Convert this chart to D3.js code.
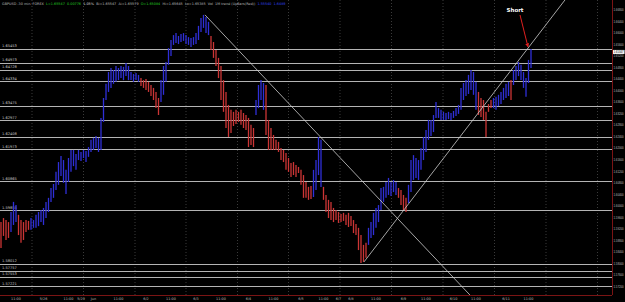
<!DOCTYPE html>
<meta charset="utf-8">
<style>
body { margin: 0; background: #000; }
svg { display: block; font-family: "DejaVu Sans", sans-serif; }
</style>
<body>
<script src="https://d3js.org/d3.v7.min.js"></script>
<script>

// bar highs / lows (GBPUSD 30 min)
var highs = [1.5945,1.5959,1.5952,1.5945,1.5980,1.6015,1.6004,1.5970,1.5952,1.5945,
  1.5952,1.5949,1.5959,1.5952,1.5970,1.5980,1.5987,1.5994,1.6015,1.6029,
  1.6063,1.6077,1.6119,1.6153,1.6174,1.6160,1.6126,1.6167,1.6195,1.6195,
  1.6181,1.6195,1.6188,1.6195,1.6191,1.6205,1.6230,1.6237,1.6243,1.6237,
  1.6306,1.6375,1.6424,1.6465,1.6479,1.6472,1.6486,1.6479,1.6486,1.6483,
  1.6496,1.6486,1.6465,1.6458,1.6462,1.6455,1.6444,1.6437,1.6441,1.6431,
  1.6420,1.6410,1.6396,1.6375,1.6437,1.6486,1.6500,1.6548,1.6576,1.6593,
  1.6600,1.6590,1.6597,1.6600,1.6593,1.6586,1.6583,1.6586,1.6600,1.6625,
  1.6652,1.6663,1.6656,1.6639,1.6590,1.6569,1.6541,1.6514,1.6486,1.6437,
  1.6396,1.6351,1.6334,1.6327,1.6334,1.6327,1.6334,1.6323,1.6316,1.6306,
  1.6282,1.6271,1.6368,1.6420,1.6437,1.6427,1.6420,1.6299,1.6271,1.6247,
  1.6230,1.6223,1.6202,1.6195,1.6184,1.6167,1.6150,1.6153,1.6143,1.6136,
  1.6126,1.6108,1.6084,1.6067,1.6070,1.6126,1.6160,1.6240,1.6230,1.6067,
  1.6039,1.6022,1.6015,1.5994,1.5987,1.5980,1.5973,1.5977,1.5970,1.5977,
  1.5966,1.5952,1.5938,1.5925,1.5900,1.5866,1.5873,1.5925,1.5945,1.5977,
  1.5994,1.6004,1.6063,1.6067,1.6084,1.6098,1.6084,1.6091,1.6084,1.6063,
  1.6056,1.6039,1.6029,1.6074,1.6160,1.6177,1.6167,1.6160,1.6202,1.6240,
  1.6264,1.6299,1.6299,1.6316,1.6361,1.6340,1.6334,1.6327,1.6323,1.6327,
  1.6323,1.6330,1.6340,1.6351,1.6410,1.6427,1.6437,1.6455,1.6472,1.6465,
  1.6431,1.6396,1.6375,1.6368,1.6327,1.6354,1.6368,1.6375,1.6379,1.6386,
  1.6396,1.6410,1.6424,1.6431,1.6437,1.6472,1.6486,1.6500,1.6490,1.6465,
  1.6444,1.6507,1.6545];

var lows = [1.5855,1.5897,1.5883,1.5890,1.5911,1.5935,1.5945,1.5900,1.5873,1.5883,
  1.5911,1.5918,1.5918,1.5925,1.5925,1.5931,1.5945,1.5935,1.5959,1.5980,
  1.6015,1.6029,1.6056,1.6074,1.6105,1.6081,1.6042,1.6084,1.6119,1.6139,
  1.6126,1.6160,1.6157,1.6167,1.6153,1.6171,1.6188,1.6195,1.6202,1.6188,
  1.6195,1.6292,1.6368,1.6396,1.6410,1.6424,1.6431,1.6437,1.6444,1.6437,
  1.6451,1.6437,1.6437,1.6431,1.6437,1.6431,1.6417,1.6410,1.6403,1.6396,
  1.6382,1.6368,1.6340,1.6316,1.6361,1.6386,1.6431,1.6490,1.6521,1.6559,
  1.6566,1.6562,1.6569,1.6573,1.6562,1.6559,1.6552,1.6559,1.6562,1.6576,
  1.6604,1.6618,1.6600,1.6593,1.6541,1.6514,1.6486,1.6444,1.6368,1.6327,
  1.6271,1.6240,1.6254,1.6278,1.6285,1.6292,1.6282,1.6271,1.6264,1.6205,
  1.6212,1.6205,1.6316,1.6340,1.6368,1.6334,1.6247,1.6195,1.6195,1.6195,
  1.6195,1.6188,1.6160,1.6153,1.6126,1.6119,1.6101,1.6108,1.6101,1.6115,
  1.6074,1.6029,1.6029,1.6022,1.6025,1.6032,1.6056,1.6108,1.6067,1.6022,
  1.5980,1.5959,1.5952,1.5945,1.5952,1.5942,1.5945,1.5949,1.5935,1.5928,
  1.5931,1.5907,1.5900,1.5848,1.5803,1.5807,1.5821,1.5866,1.5890,1.5900,
  1.5925,1.5945,1.5987,1.6015,1.6029,1.6039,1.6035,1.6049,1.6039,1.6029,
  1.6004,1.5987,1.5980,1.6011,1.6049,1.6091,1.6098,1.6091,1.6126,1.6160,
  1.6188,1.6230,1.6243,1.6257,1.6306,1.6306,1.6299,1.6299,1.6299,1.6302,
  1.6299,1.6306,1.6313,1.6320,1.6334,1.6368,1.6382,1.6389,1.6403,1.6386,
  1.6334,1.6316,1.6309,1.6299,1.6240,1.6327,1.6340,1.6340,1.6334,1.6347,
  1.6354,1.6368,1.6375,1.6382,1.6368,1.6420,1.6437,1.6451,1.6437,1.6410,
  1.6379,1.6427,1.6479];

// trend colouring of the bars: runs of up (blue) / down (red)
var trendRuns = [["d",4],["u",3],["d",5],["u",44],["d",8],["u",20],["d",18],["u",4],
  ["d",19],["u",4],["d",18],["u",12],["d",4],["u",28],["d",6],["u",7],["d",1],["u",8]];

// horizontal levels drawn on the chart
var levels = [1.65453,1.64973,1.64728,1.64334,1.63475,1.62977,1.62408,1.61973,
  1.60865,1.59855,1.58012,1.57757,1.57553,1.57221];

// right price axis
var priceTicks = [1.572,1.576,1.580,1.584,1.588,1.592,1.596,1.600,1.604,1.608,1.612,1.616,
  1.620,1.624,1.628,1.632,1.636,1.640,1.644,1.648,1.652,1.656,1.660,1.664,1.668];
var lastPrice = 1.65347;

// bottom time axis (bar index -> label)
var timeTickBars = [6,17,27,32,37,47,58,68,78,88,99,109,120,129,135,140,150,161,170,181,190,202,211];
var timeTickLabels = ["11:00","5/26","11:00","5/29","Jun","11:00","6/2","11:00","6/3","11:00","6/4",
  "11:00","6/5","11:00","6/7","6/8","11:00","6/9","11:00","6/10","11:00","6/11","11:00"];
var gridBars = [12.4,33,53.6,74,94.6,115,135.6,156.2,176.8,197.4,218,238.6];

// trend lines: [bar, price, bar, price]
var trendLines = [[81.6,1.6663,187.6,1.5692],[145.2,1.5807,225.6,1.6715]];

// annotation
var noteText = "Short", noteBar = 210.8, notePrice = 1.6545;

// header line segments
var header = [
  ["GBPUSD -30 min. FOREX  ", "#bbbbbb"],
  ["L=1.65547  0.00776  ", "#22cc22"],
  ["1.05%  ", "#dddddd"],
  ["Bi=1.65547  Ai=1.65579  ", "#bbbbbb"],
  ["O=1.65084  ", "#22cc22"],
  ["Hi=1.65645  Lo=1.65385  Vol  1M trend (UpBars(Red))  ", "#bbbbbb"],
  ["1.55540  1.6489", "#3344ee"]
];

var W = 625, H = 302;
var plotRight = 612, plotBottom = 295;

var svg = d3.select("body").append("svg")
    .attr("width", W)
    .attr("height", H)
    .style("background", "#000");

var x = d3.scaleLinear().domain([0, 244]).range([1, 611]);
var y = d3.scaleLinear().domain([1.572, 1.668]).range([287, 10]);

var bars = [];
var k = 0;
trendRuns.forEach(function(r) {
  for (var j = 0; j < r[1]; j++) {
    bars.push({i: k, hi: highs[k], lo: lows[k], t: r[0]});
    k++;
  }
});

svg.append("clipPath").attr("id", "plot")
  .append("rect").attr("x", 0).attr("y", 0).attr("width", plotRight).attr("height", plotBottom);

var plot = svg.append("g").attr("clip-path", "url(#plot)");

// vertical dotted grid
plot.selectAll(".grid").data(gridBars).enter().append("line")
    .attr("x1", function(d) { return x(d); })
    .attr("x2", function(d) { return x(d); })
    .attr("y1", 0).attr("y2", plotBottom)
    .attr("stroke", "#3a3a3a")
    .attr("stroke-width", 1)
    .attr("stroke-dasharray", "1,2");

// horizontal levels
plot.selectAll(".level").data(levels).enter().append("line")
    .attr("x1", 0).attr("x2", plotRight)
    .attr("y1", function(d) { return Math.round(y(d)) + 0.5; })
    .attr("y2", function(d) { return Math.round(y(d)) + 0.5; })
    .attr("stroke", "#b4b4b4")
    .attr("stroke-width", 1);

plot.selectAll(".levelLabel").data(levels).enter().append("text")
    .attr("x", 2)
    .attr("y", function(d) { return y(d) - 1.5; })
    .attr("fill", "#c8c8c8")
    .style("font-size", "3.6px")
    .text(function(d) { return d.toFixed(5); });

// price bars
plot.selectAll(".bar").data(bars).enter().append("line")
    .attr("x1", function(d) { return x(d.i); })
    .attr("x2", function(d) { return x(d.i); })
    .attr("y1", function(d) { return y(d.hi); })
    .attr("y2", function(d) { return y(d.lo); })
    .attr("stroke", function(d) { return d.t === "u" ? "#2f2fd8" : "#cc3535"; })
    .attr("stroke-width", 1.3);

// trend lines
plot.selectAll(".trend").data(trendLines).enter().append("line")
    .attr("x1", function(d) { return x(d[0]); })
    .attr("y1", function(d) { return y(d[1]); })
    .attr("x2", function(d) { return x(d[2]); })
    .attr("y2", function(d) { return y(d[3]); })
    .attr("stroke", "#cfcfcf")
    .attr("stroke-width", 0.8);

// axes lines (dark red)
svg.append("line").attr("x1", plotRight + 0.5).attr("x2", plotRight + 0.5)
    .attr("y1", 0).attr("y2", plotBottom)
    .attr("stroke", "#7a1414").attr("stroke-width", 1);
svg.append("line").attr("x1", 0).attr("x2", plotRight)
    .attr("y1", plotBottom + 0.5).attr("y2", plotBottom + 0.5)
    .attr("stroke", "#7a1414").attr("stroke-width", 1);

// right price labels
svg.selectAll(".ptick").data(priceTicks).enter().append("text")
    .attr("x", plotRight + 1.5)
    .attr("y", function(d) { return y(d); })
    .attr("dy", "0.35em")
    .attr("fill", "#bdbdbd")
    .style("font-family", "'Liberation Sans', sans-serif")
    .style("font-size", "2.8px")
    .text(function(d) { return d.toFixed(5); });

// last price box
var ly = y(lastPrice);
svg.append("rect").attr("x", plotRight + 1).attr("y", ly - 2)
    .attr("width", 11.5).attr("height", 4).attr("fill", "#ffffff");
svg.append("text").attr("x", plotRight + 1.5).attr("y", ly).attr("dy", "0.35em")
    .attr("fill", "#000")
    .style("font-family", "'Liberation Sans', sans-serif")
    .style("font-size", "2.8px")
    .text(lastPrice.toFixed(5));

// time labels
svg.selectAll(".ttick").data(timeTickBars).enter().append("text")
    .attr("x", function(d) { return x(d); })
    .attr("y", 300)
    .attr("text-anchor", "middle")
    .attr("fill", "#bdbdbd")
    .style("font-size", "3.4px")
    .text(function(d, i) { return timeTickLabels[i]; });

// header
var ht = svg.append("text").attr("x", 2).attr("y", 4.5).style("font-size", "3.4px");
ht.selectAll("tspan").data(header).enter().append("tspan")
    .attr("fill", function(d) { return d[1]; })
    .style("white-space", "pre")
    .text(function(d) { return d[0]; });
ht.attr("xml:space", "preserve");

// Short annotation with red arrow
var tipX = x(noteBar), tipY = y(notePrice) - 2;
svg.append("defs").append("marker")
    .attr("id", "arrow").attr("viewBox", "0 0 10 10")
    .attr("refX", 9).attr("refY", 5)
    .attr("markerWidth", 4).attr("markerHeight", 4)
    .attr("orient", "auto")
  .append("path").attr("d", "M0,0L10,5L0,10z").attr("fill", "#e02020");
svg.append("line")
    .attr("x1", tipX - 8).attr("y1", tipY - 32)
    .attr("x2", tipX).attr("y2", tipY)
    .attr("stroke", "#e02020").attr("stroke-width", 1)
    .attr("marker-end", "url(#arrow)");
svg.append("text")
    .attr("x", tipX - 13).attr("y", tipY - 35)
    .attr("text-anchor", "middle")
    .attr("fill", "#ffffff")
    .style("font-size", "5.5px")
    .style("font-weight", "bold")
    .text(noteText);

</script>
</body>
